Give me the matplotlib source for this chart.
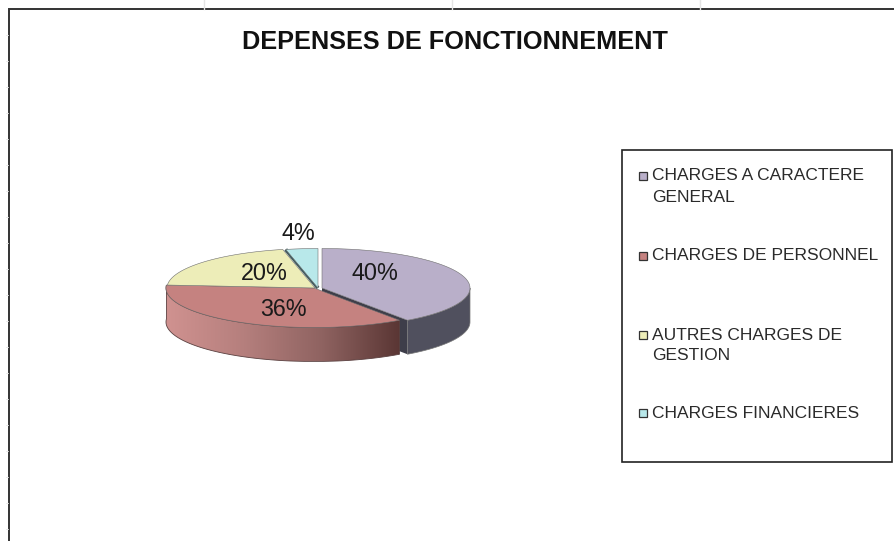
import numpy as np
import matplotlib
matplotlib.use('Agg')
import matplotlib.pyplot as plt
from matplotlib.colors import LinearSegmentedColormap
from matplotlib.patches import Polygon, Rectangle

plt.rcParams['font.family'] = ['Liberation Sans', 'DejaVu Sans']

# data
title = 'DEPENSES DE FONCTIONNEMENT'
shares = [40.2, 36, 20.3, 3.5]
pct_labels = ['40%', '36%', '20%', '4%']
legend_rows = [['CHARGES A CARACTERE', 'GENERAL'],
               ['CHARGES DE PERSONNEL'],
               ['AUTRES CHARGES DE', 'GESTION'],
               ['CHARGES FINANCIERES']]

# styles
top_colors = ['#B9AFC9', '#C58280', '#EDEDB8', '#B8E8EA']
side_colors = ['#50505E', '#8A5A58', '#55584A', '#3F6468']
centers = [(322, 288), (314, 288), (315, 288), (318, 288)]
label_pos = [(375, 273), (283, 309), (264, 274), (298, 234)]
legend_y = [(176, 197), (256,), (335, 356), (413,)]
rx, ry, depth = 148, 39.5, 34

fig = plt.figure(figsize=(8.95, 5.41), dpi=100)
ax = fig.add_axes([0, 0, 1, 1])


def arc(c, t0, t1, drop=0):
    t = np.radians(np.linspace(t0, t1, 80))
    return np.column_stack([c[0] + rx * np.sin(t), c[1] - ry * np.cos(t) + drop])


# chart frame and the sheet marks behind it
for x in [204, 452, 700]:
    ax.plot([x, x], [0, 9], color='#E4E4E4', lw=1)
for y in np.arange(35, 541, 26):
    ax.plot([6.5, 8.5], [y, y], color='#E6E6E6', lw=0.6)
ax.add_patch(Rectangle((9, 9), 900, 600, fc='white', ec='#333333', lw=1.4))
ax.text(455, 42, title, ha='center', va='center', fontsize=18.2, fontweight='bold', color='#111111')

# slice angles, clockwise from the top
edges = np.concatenate([[0], np.cumsum(shares)]) * 3.6

# walls first, purple then red
c = centers[0]
t1 = edges[1]
cut = np.array([c, arc(c, t1, t1)[0], arc(c, t1, t1, depth)[0], (c[0], c[1] + depth)])
ax.add_patch(Polygon(cut, fc='#3E3E4A', ec='none', zorder=2))
wall = np.vstack([arc(c, 90, t1), arc(c, t1, 90, depth)])
ax.add_patch(Polygon(wall, fc=side_colors[0], ec='#777777', lw=0.5, zorder=2))

c = centers[1]
wall = np.vstack([arc(c, edges[1], edges[2]), arc(c, edges[2], edges[1], depth)])
wall_patch = Polygon(wall, fc='none', ec='#5A4040', lw=0.6, zorder=4)
ax.add_patch(wall_patch)
cmap = LinearSegmentedColormap.from_list('side', ['#D09290', '#B57F7D', '#8F6361', '#5A3634'])
x0, x1 = wall[:, 0].min(), wall[:, 0].max()
im = ax.imshow(np.linspace(0, 1, 256)[None, :], cmap=cmap, aspect='auto', zorder=3,
               extent=(x0, x1, wall[:, 1].max(), wall[:, 1].min()))
im.set_clip_path(wall_patch)

# dark wall showing beside the small slice
c = centers[3]
t0 = edges[3]
ax.plot(*zip(c, arc(c, t0, t0)[0]), color='#3F5A5C', lw=2.6, zorder=5, solid_capstyle='butt')

# top faces
for i, c in enumerate(centers):
    pts = np.vstack([[c], arc(c, edges[i], edges[i + 1])])
    ax.add_patch(Polygon(pts, fc=top_colors[i], ec='#6E6E6E', lw=0.4, zorder=6))

for txt, (x, y) in zip(pct_labels, label_pos):
    ax.text(x, y, txt, ha='center', va='center', fontsize=16.8, color='#1A1A1A', zorder=7)

# legend
ax.add_patch(Rectangle((622.5, 149.5), 270, 312, fc='white', ec='#222222', lw=1.2, zorder=1))
for rows, ys, col in zip(legend_rows, legend_y, top_colors):
    ax.add_patch(Rectangle((639, ys[0] - 4.5), 8, 8, fc=col, ec='#333333', lw=0.9, zorder=2))
    for txt, y in zip(rows, ys):
        ax.text(652, y, txt, ha='left', va='center', fontsize=12.5, color='#2A2A2A', zorder=2)

ax.set_xlim(0, 895)
ax.set_ylim(541, 0)
ax.axis('off')
fig.savefig('out.png', dpi=100)
